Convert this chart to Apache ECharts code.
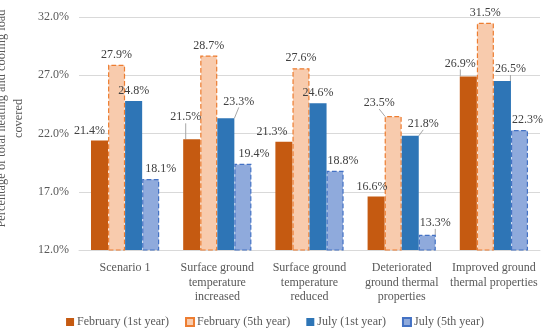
<!DOCTYPE html>
<html><head><meta charset="utf-8">
<script src="https://cdn.jsdelivr.net/npm/echarts@6/dist/echarts.min.js"></script>
<style>html,body{margin:0;padding:0;background:#fff}#c{width:550px;height:335px}</style>
</head><body><div id="c"></div>
<script>
const categories = ["Scenario 1", "Surface ground\ntemperature\nincreased", "Surface ground\ntemperature\nreduced", "Deteriorated\nground thermal\nproperties", "Improved ground\nthermal properties"];
const seriesNames = ["February (1st year)", "February (5th year)", "July (1st year)", "July (5th year)"];
const feb1 = [21.4, 21.5, 21.3, 16.6, 26.9];
const feb5 = [27.9, 28.7, 27.6, 23.5, 31.5];
const jul1 = [24.8, 23.3, 24.6, 21.8, 26.5];
const jul5 = [18.1, 19.4, 18.8, 13.3, 22.3];
const yTicks = [12, 17, 22, 27, 32];

// label nudges [dx, dy, leaderLine]
const labelNudge = [
  [[-10,0,0],[-6,-12,1],[-12,0,0],[-4,0,0],[-8,-3,1]],
  [[0,0,0],[0,0,0],[0,0,0],[-14,-3,1],[0,0,0]],
  [[0,0,0],[13,-7,1],[0,0,0],[13,-2,1],[8,-2,1]],
  [[10,0,0],[11,0,0],[8,0,0],[8,-2,1],[8,0,0]]
];

const font = "'Liberation Serif', 'DejaVu Serif', serif";
const styles = [
  {color:'#C55A11'},
  {color:'#F8CBAD', borderColor:'#ED7D31', borderType:'dashed', borderWidth:1.2},
  {color:'#2E75B6'},
  {color:'#8FAADC', borderColor:'#4472C4', borderType:'dashed', borderWidth:1.2}
];
const allData = [feb1, feb5, jul1, jul5];

const series = allData.map((arr, si) => ({
  name: seriesNames[si],
  type: 'bar',
  barGap: 0,
  barCategoryGap: '26%',
  itemStyle: styles[si],
  data: arr.map((v, i) => ({value: v, labelLine: {show: !!labelNudge[si][i][2]}})),
  label: {
    show: true, position: 'top', distance: 4,
    formatter: p => p.value.toFixed(1) + '%',
    fontFamily: font, fontSize: 12, color: '#404040'
  },
  labelLine: {show: false, lineStyle: {color: '#a6a6a6', width: 1}},
  labelLayout: p => ({dx: labelNudge[si][p.dataIndex][0], dy: labelNudge[si][p.dataIndex][1]})
}));

const chart = echarts.init(document.getElementById('c'));
chart.setOption({
  animation: false,
  textStyle: {fontFamily: font},
  grid: {left: 79, right: 10, top: 17, bottom: 85, outerBoundsMode: 'none', containLabel: false},
  legend: {
    bottom: 2, left: 'center', itemWidth: 8, itemHeight: 8, itemGap: 16,
    icon: 'rect',
    textStyle: {fontFamily: font, fontSize: 12, color: '#595959', padding: [0,0,0,-2]},
    data: seriesNames
  },
  xAxis: {
    type: 'category', data: categories,
    axisLine: {lineStyle: {color: '#d9d9d9'}},
    axisTick: {show: false},
    axisLabel: {interval: 0, fontFamily: font, fontSize: 12, color: '#595959', lineHeight: 14.5, margin: 11}
  },
  yAxis: {
    type: 'value', min: yTicks[0], max: yTicks[yTicks.length-1], interval: 5,
    name: 'Percentage of total heating and cooling load\ncovered',
    nameLocation: 'middle', nameGap: 46,
    nameTextStyle: {fontFamily: font, fontSize: 12.4, color: '#595959', lineHeight: 17, padding: [0, 0, 0, 30]},
    axisLine: {show: false}, axisTick: {show: false},
    splitLine: {lineStyle: {color: '#d9d9d9'}},
    axisLabel: {fontFamily: font, fontSize: 12, color: '#595959', margin: 10, formatter: v => v.toFixed(1) + '%'}
  },
  series: series
});
</script></body></html>
